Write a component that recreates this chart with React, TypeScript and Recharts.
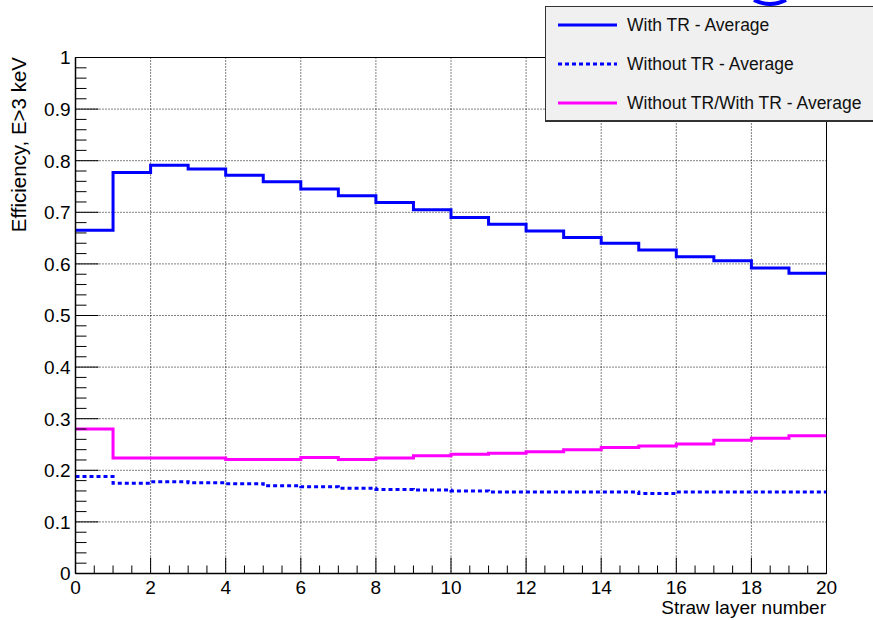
import React from "react";
import {
  LineChart, Line, XAxis, YAxis, CartesianGrid, Legend, ReferenceArea
} from "recharts";

// bin low edges (straw layer number)
const layers = [0, 1, 2, 3, 4, 5, 6, 7, 8, 9, 10, 11, 12, 13, 14, 15, 16, 17, 18, 19];
const lastEdge = 20;

const withTR = [0.665, 0.777, 0.791, 0.784, 0.772, 0.759, 0.745, 0.732, 0.719, 0.705,
  0.690, 0.677, 0.664, 0.651, 0.640, 0.627, 0.614, 0.606, 0.592, 0.582];
const withoutTR = [0.188, 0.175, 0.178, 0.176, 0.174, 0.170, 0.168, 0.165, 0.163, 0.162,
  0.160, 0.158, 0.158, 0.158, 0.158, 0.155, 0.158, 0.158, 0.158, 0.158];
const ratio = [0.280, 0.224, 0.224, 0.224, 0.221, 0.221, 0.225, 0.221, 0.224, 0.228,
  0.231, 0.233, 0.236, 0.240, 0.244, 0.247, 0.251, 0.258, 0.262, 0.267];

const xTicks = [0, 2, 4, 6, 8, 10, 12, 14, 16, 18, 20];
const yTicks = [0, 0.1, 0.2, 0.3, 0.4, 0.5, 0.6, 0.7, 0.8, 0.9, 1];
const yTickLabels = ["0", "0.1", "0.2", "0.3", "0.4", "0.5", "0.6", "0.7", "0.8", "0.9", "1"];

// all tick positions: 4 divisions per major on x, 5 on y
const xAllTicks: number[] = [];
for (let i = 0; i <= 40; i++) xAllTicks.push(i * 0.5);
const yAllTicks: number[] = [];
for (let i = 0; i <= 50; i++) yAllTicks.push(Math.round(i * 2) / 100);

const series = [
  { key: "withTR", name: "With TR - Average", color: "#0000ff", dash: undefined as string | undefined },
  { key: "withoutTR", name: "Without TR - Average", color: "#0000ff", dash: "4 3" },
  { key: "ratio", name: "Without TR/With TR - Average", color: "#ff00ff", dash: undefined as string | undefined },
];

// step histogram: repeat last bin content at the upper edge
const rows = [...layers, lastEdge].map((x, i) => {
  const j = Math.min(i, layers.length - 1);
  return { x, withTR: withTR[j], withoutTR: withoutTR[j], ratio: ratio[j] };
});

const FONT = "'Liberation Sans', Arial, Helvetica, sans-serif";

const isMajor = (v: number, majors: number[]) => majors.some((m) => Math.abs(m - v) < 1e-6);

const XTick = (props: any) => {
  const { x, y, payload } = props;
  const v = payload.value;
  if (!isMajor(v, xTicks)) {
    return <line x1={x} y1={y} x2={x} y2={y - 8} stroke="#000" strokeWidth={1} />;
  }
  return (
    <g>
      <line x1={x} y1={y} x2={x} y2={y - 16} stroke="#000" strokeWidth={1} />
      <text x={x} y={y + 20} textAnchor="middle" fontSize={19} fontFamily={FONT} fill="#000">
        {String(v)}
      </text>
    </g>
  );
};

const YTick = (props: any) => {
  const { x, y, payload } = props;
  const v = payload.value;
  if (!isMajor(v, yTicks)) {
    return <line x1={x} y1={y} x2={x + 11} y2={y} stroke="#000" strokeWidth={1} />;
  }
  const idx = yTicks.findIndex((m) => Math.abs(m - v) < 1e-6);
  return (
    <g>
      <line x1={x} y1={y} x2={x + 23} y2={y} stroke="#000" strokeWidth={1} />
      <text x={x - 5} y={y} dy="0.36em" textAnchor="end" fontSize={19} fontFamily={FONT} fill="#000">
        {yTickLabels[idx]}
      </text>
    </g>
  );
};

const LegendBox = () => (
  <div
    style={{
      width: 330, height: 116, background: "#f0f0f0", border: "1px solid #333",
      borderBottomWidth: 2, boxSizing: "border-box", position: "relative", fontFamily: FONT,
    }}
  >
    {series.map((s, i) => (
      <div key={s.key} style={{ position: "absolute", left: 0, top: 0, width: "100%" }}>
        <svg width={80} height={20} style={{ position: "absolute", left: 10, top: 8 + i * 39 }}>
          <line x1={2} y1={10} x2={61} y2={10} stroke={s.color} strokeWidth={3} strokeDasharray={s.dash} />
        </svg>
        <div
          style={{
            position: "absolute", left: 81, top: 7 + i * 39, fontSize: 17.5, lineHeight: "22px",
            color: "#111", whiteSpace: "nowrap",
          }}
        >
          {s.name}
        </div>
      </div>
    ))}
  </div>
);

export default function App() {
  return (
    <div style={{ position: "absolute", left: 0, top: 0, width: 873, height: 620, background: "#fff", overflow: "hidden" }}>
      <svg width={60} height={10} style={{ position: "absolute", left: 740, top: 0 }}>
        <path d="M 14 0 Q 30 8 46 0" stroke="#0000ff" strokeWidth={4} fill="none" />
      </svg>
      <LineChart
        width={873}
        height={620}
        data={rows}
        margin={{ top: 57.5, right: 46.5, bottom: 16.5, left: 15.5 }}
      >
        <CartesianGrid
          stroke="#000"
          strokeDasharray="1 2"
          horizontalValues={yTicks}
          verticalValues={xTicks}
        />
        <XAxis
          type="number"
          dataKey="x"
          domain={[0, 20]}
          ticks={xAllTicks}
          interval={0}
          height={30}
          tickSize={0}
          tickMargin={0}
          tickLine={false}
          axisLine={{ stroke: "#000", strokeWidth: 1.5 }}
          tick={(p: any) => <XTick {...p} />}
          allowDataOverflow
        />
        <YAxis
          type="number"
          domain={[0, 1]}
          ticks={yAllTicks}
          interval={0}
          width={60}
          tickSize={0}
          tickMargin={0}
          tickLine={false}
          axisLine={{ stroke: "#000", strokeWidth: 1.5 }}
          tick={(p: any) => <YTick {...p} />}
          allowDataOverflow
        />
        <ReferenceArea x1={0} x2={20} y1={0} y2={1} fill="none" stroke="#000" strokeWidth={1} />
        {series.map((s) => (
          <Line
            key={s.key}
            type="stepAfter"
            dataKey={s.key}
            name={s.name}
            stroke={s.color}
            strokeWidth={3}
            strokeDasharray={s.dash}
            dot={false}
            activeDot={false}
            isAnimationActive={false}
          />
        ))}
        <Legend
          layout="vertical"
          align="center"
          verticalAlign="middle"
          content={<LegendBox />}
          wrapperStyle={{ position: "absolute", left: 545, top: 6, width: 330, height: 116, margin: 0 }}
        />
        <text x={826} y={614} textAnchor="end" fontSize={19} fontFamily={FONT} fill="#000">
          Straw layer number
        </text>
        <text
          x={26}
          y={57}
          transform="rotate(-90 26 57)"
          textAnchor="end"
          fontSize={20.5}
          fontFamily={FONT}
          fill="#000"
        >
          Efficiency, E&gt;3 keV
        </text>
      </LineChart>
    </div>
  );
}
